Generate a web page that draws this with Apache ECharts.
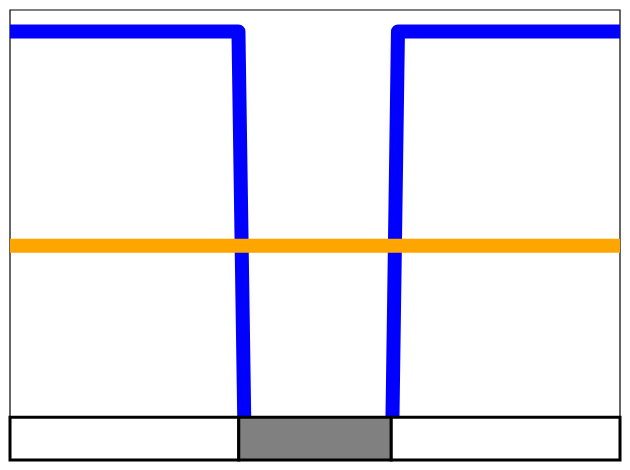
<!DOCTYPE html>
<html>
<head>
<meta charset="utf-8">
<script src="https://cdn.jsdelivr.net/npm/echarts@6/dist/echarts.min.js"></script>
<style>html,body{margin:0;padding:0;background:#fff}#c{width:630px;height:470px}</style>
</head>
<body>
<div id="c"></div>
<script>
// Signal (blue) sample points (low part is hidden behind the state strip)
const signalX = [0, 37.45, 38.45, 62.65, 63.6, 100];
const signalY = [1, 1, 0.05, 0.05, 1, 1];
// Threshold (orange)
const thresholdX = [0, 100];
const thresholdY = [0.5, 0.5];
// State strip segments: start, end, state (1 = active/grey)
const spanStart = [0, 37.5, 62.5];
const spanEnd = [37.5, 62.5, 100];
const spanState = [0, 1, 0];
const stripHeight = 0.1;

const chart = echarts.init(document.getElementById('c'), null, {renderer: 'canvas'});
const blueData = signalX.map((x, i) => [x, signalY[i]]);
const orangeData = thresholdX.map((x, i) => [x, thresholdY[i]]);
const spanData = spanStart.map((s, i) => [s, spanEnd[i], spanState[i]]);

chart.setOption({
  animation: false,
  grid: {left: 10, top: 10, width: 610, height: 450, show: true, borderColor: '#000', borderWidth: 1.2, backgroundColor: 'transparent'},
  xAxis: {type: 'value', min: 0, max: 100, show: false},
  yAxis: {type: 'value', min: 0, max: 1.05, show: false},
  series: [
    {type: 'line', data: blueData, symbol: 'none', z: 2,
     lineStyle: {color: '#0000ff', width: 14, join: 'round', cap: 'butt'}},
    {type: 'line', data: orangeData, symbol: 'none', z: 3,
     lineStyle: {color: '#ffa500', width: 14, cap: 'butt'}},
    {type: 'custom', data: spanData, z: 5, clip: false,
     renderItem: function (params, api) {
       const p0 = api.coord([api.value(0), stripHeight]);
       const p1 = api.coord([api.value(1), 0]);
       return {
         type: 'rect',
         shape: {x: p0[0], y: p0[1], width: p1[0] - p0[0], height: p1[1] - p0[1]},
         style: {fill: api.value(2) ? '#808080' : '#ffffff', stroke: '#000', lineWidth: 3}
       };
     }}
  ]
});
</script>
</body>
</html>
